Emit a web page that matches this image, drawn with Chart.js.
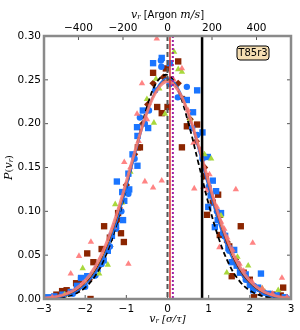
<!DOCTYPE html>
<html>
<head>
<meta charset="utf-8">
<script src="https://cdn.jsdelivr.net/npm/chart.js@4"></script>
<style>
  html, body { margin: 0; padding: 0; background: #fff; }
  #wrap { width: 300px; height: 330px; }
</style>
</head>
<body>
<div id="wrap"><canvas id="chart" width="300" height="330"></canvas></div>
<script>
// fitted curves, sampled every 0.25 sigma/tau
const curveX = [-3, -2.75, -2.5, -2.25, -2, -1.75, -1.5, -1.25, -1, -0.75, -0.5, -0.25, 0,
  0.25, 0.5, 0.75, 1, 1.25, 1.5, 1.75, 2, 2.25, 2.5, 2.75, 3];
const salmonCurve = [0.001, 0.0023, 0.0052, 0.0109, 0.021, 0.0375, 0.0619, 0.0946, 0.1338, 0.1752, 0.2126, 0.2386, 0.248,
  0.2386, 0.2126, 0.1752, 0.1338, 0.0946, 0.0619, 0.0375, 0.021, 0.0109, 0.0052, 0.0023, 0.001];
const orangeCurve = [0.0009, 0.002, 0.0047, 0.0098, 0.0192, 0.035, 0.059, 0.092, 0.132, 0.174, 0.212, 0.239, 0.249,
  0.24, 0.214, 0.176, 0.134, 0.094, 0.061, 0.036, 0.0196, 0.01, 0.0048, 0.002, 0.0009];
const blueCurve = [0.0005, 0.0013, 0.0033, 0.0076, 0.0158, 0.0303, 0.0531, 0.0855, 0.1261, 0.1708, 0.212, 0.2413, 0.252,
  0.2413, 0.212, 0.1708, 0.1261, 0.0855, 0.0531, 0.0303, 0.0158, 0.0076, 0.0033, 0.0013, 0.0005];
const brownCurve = [0.0007, 0.0018, 0.0042, 0.009, 0.018, 0.033, 0.057, 0.09, 0.13, 0.173, 0.212, 0.24, 0.25,
  0.24, 0.212, 0.173, 0.13, 0.09, 0.057, 0.033, 0.018, 0.009, 0.0042, 0.0018, 0.0007];
const dashedCurve = [0.0003, 0.0009, 0.0024, 0.0058, 0.0131, 0.0268, 0.0495, 0.0831, 0.1265, 0.1746, 0.2186, 0.2481, 0.2555,
  0.2386, 0.2021, 0.1553, 0.1082, 0.0684, 0.0392, 0.0204, 0.0096, 0.0041, 0.0016, 0.0006, 0.0002];

// measured points
const blueSqX = [-2.9, -2.75, -2.55, -2.35, -2.2, -2.1, -1.95, -1.8, -1.7, -1.55, -1.45, -1.35, -1.25, -1.08, -1.05, -1.23, -1.1, -0.93, -0.95, -0.73,
  -0.85, -0.73, -0.74, -0.47, -0.6, -0.35, -0.14, 0.06, 0.47, 0.72, 0.62, 0.85, 0.98, 0.99, 1.1, 1.18, 1.15, 1.3, 1.4, 1.56,
  1.62, 1.76, 1.9, 2.08, 2.27, 2.2, 2.45, 2.65, 2.85, 1.05, 1.22, 1.48, 1.68, 2.0];
const blueSqY = [0.002, 0.003, 0.005, 0.008, 0.015, 0.024, 0.026, 0.027, 0.034, 0.044, 0.055, 0.072, 0.083, 0.09, 0.112, 0.134, 0.122, 0.125, 0.143, 0.152,
  0.165, 0.186, 0.196, 0.195, 0.215, 0.269, 0.275, 0.269, 0.227, 0.238, 0.213, 0.19, 0.162, 0.105, 0.135, 0.123, 0.082, 0.098, 0.072, 0.042,
  0.056, 0.03, 0.028, 0.01, 0.029, 0.013, 0.006, 0.004, 0.002, 0.118, 0.09, 0.058, 0.038, 0.016];
const blueCiX = [-2.6, -2.3, -2.0, -1.75, -1.6, -1.4, -1.25, -1.12, -0.95, -0.8, -0.67, -0.55, -0.45, -0.3, -0.15, -0.16, 0.05, 0.25, 0.47, 0.72,
  0.6, 0.85, 1.0, 1.2, 1.35, 1.5, 1.7, 1.9, 2.1, 2.35, 2.6, 2.9];
const blueCiY = [0.002, 0.006, 0.014, 0.027, 0.04, 0.06, 0.08, 0.1, 0.12, 0.16, 0.207, 0.2, 0.215, 0.238, 0.265, 0.272, 0.245, 0.23, 0.242, 0.187,
  0.195, 0.16, 0.128, 0.1, 0.075, 0.055, 0.04, 0.022, 0.015, 0.007, 0.003, 0.001];
const salmonTriX = [-0.26, -0.62, 0.35, -0.74, -1.05, -0.55, -0.35, -0.14, 0.65, 0.87, 1.66, 0.63, -1.86, -2.15, -2.35, -0.95, 1.26, 2.07, 2.78,
  -2.8, -2.4, -2.05, -1.7, -1.45, -1.3, -1.15, -0.9, -0.7, -0.5, 0.15, 0.5, 0.8, 0.96, 1.1, 1.3, 1.45, 1.65, 1.85, 2.05, 2.3, 2.55, 2.9,
  1.02, 1.2, 1.38, 1.58, 1.75];
const salmonTriY = [0.297, 0.246, 0.263, 0.211, 0.156, 0.134, 0.127, 0.135, 0.126, 0.128, 0.125, 0.178, 0.065, 0.049, 0.029, 0.04, 0.059, 0.064, 0.024,
  0.002, 0.006, 0.018, 0.036, 0.06, 0.082, 0.105, 0.15, 0.18, 0.205, 0.25, 0.215, 0.17, 0.124, 0.115, 0.088, 0.07, 0.045, 0.032, 0.02, 0.012, 0.006, 0.002,
  0.142, 0.105, 0.08, 0.056, 0.04];
const greenTriX = [0.16, 0.26, 0.35, -0.33, 1.06, -1.27, -1.66, -2.06, -1.45, 1.96, 1.44, 2.69, -0.5, -0.2, 0.55, 0.9, 1.3, 1.7, -0.9, -1.1,
  -2.5, 2.3, -0.06, -0.28];
const greenTriY = [0.282, 0.262, 0.259, 0.201, 0.16, 0.108, 0.029, 0.035, 0.039, 0.038, 0.03, 0.01, 0.228, 0.24, 0.205, 0.165, 0.095, 0.048, 0.145, 0.11,
  0.005, 0.012, 0.211, 0.251];
const brownSqX = [-0.35, 0.26, -0.04, -0.25, 0.0, -0.14, 0.35, 0.72, -0.67, -0.72, 1.23, -1.06, -1.13, -1.54, -1.95, 0.96, 1.27, 1.78, 1.56, 2.81,
  -2.56, -1.87, 2.1, 1.27, -2.22, -2.7, -2.45, -2.1, -1.8, -1.6, -1.4, -1.2, 0.93, 1.1, 1.5, 1.85, 2.0, 2.3, 2.55, 2.75, 0.47];
const brownSqY = [0.258, 0.271, 0.263, 0.219, 0.219, 0.212, 0.173, 0.199, 0.173, 0.173, 0.119, 0.065, 0.075, 0.083, 0.052, 0.096, 0.096, 0.083, 0.026, 0.013,
  0.009, 0.0, 0.002, 0.073, 0.018, 0.005, 0.01, 0.022, 0.042, 0.057, 0.07, 0.098, 0.14, 0.11, 0.06, 0.03, 0.022, 0.008, 0.005, 0.004, 0.197];
const brownDiX = [-2.5, -2.2, -1.9, -1.65, -1.4, -1.2, -1.0, -0.8, -0.6, -0.48, -0.35, -0.1, 0.1, 0.26, 0.4, 0.55, 0.7, 0.9, 1.05, 1.25,
  1.45, 1.65, 1.9, 2.2, 2.5];
const brownDiY = [0.004, 0.01, 0.022, 0.038, 0.06, 0.09, 0.13, 0.165, 0.2, 0.222, 0.246, 0.253, 0.25, 0.246, 0.228, 0.205, 0.18, 0.15, 0.12, 0.095,
  0.065, 0.045, 0.025, 0.012, 0.005];

// vertical markers (sigma/tau)
const markerX = [0.0, 0.06, 0.13, 0.84];

const xTicks = [-3, -2, -1, 0, 1, 2, 3];
const yTicks = [0, 0.05, 0.1, 0.15, 0.2, 0.25, 0.3];
const topTicks = [-400, -200, 0, 200, 400];
const topRange = [-555, 555];
const boxLabel = 'T85r3';

const pts = (xs, ys) => xs.map((x, i) => ({ x, y: ys[i] }));
const minus = v => String(v).replace('-', '\u2212');

function pointSet(xs, ys, color, style, r) {
  return { type: 'scatter', data: pts(xs, ys), backgroundColor: color, borderColor: color, borderWidth: 0,
    pointStyle: style, pointRadius: r, order: 5 };
}
function curveSet(ys, color, width, dash) {
  return { type: 'scatter', data: pts(curveX, ys), showLine: true, borderColor: color, borderWidth: width,
    borderDash: dash || [], pointRadius: 0, tension: 0.4, fill: false, order: 1 };
}

const sans = 'DejaVu Sans, sans-serif';
const serifIt = 'italic 11px "DejaVu Serif", serif';

function rich(ctx, parts, cx, cy) {
  let w = 0;
  parts.forEach(p => { ctx.font = p.f; w += ctx.measureText(p.t).width; });
  let x = cx - w / 2;
  ctx.textBaseline = 'middle';
  ctx.textAlign = 'left';
  parts.forEach(p => {
    ctx.font = p.f;
    ctx.fillText(p.t, x, cy + (p.dy || 0));
    x += ctx.measureText(p.t).width;
  });
}

const decor = {
  id: 'decor',
  afterDatasetsDraw(chart) {
    const { ctx, chartArea: a, scales } = chart;
    const xs = scales.x, ys = scales.y, x2 = scales.x2;
    ctx.save();
    // vertical markers
    const styles = [
      { c: '#555555', w: 2, d: [5, 3] },
      { c: '#d9302f', w: 1.5, d: [] },
      { c: '#a0209f', w: 2, d: [2, 2] },
      { c: '#000000', w: 2.5, d: [] }
    ];
    markerX.forEach((v, i) => {
      const px = xs.getPixelForValue(v);
      ctx.beginPath();
      ctx.strokeStyle = styles[i].c;
      ctx.lineWidth = styles[i].w;
      ctx.setLineDash(styles[i].d);
      ctx.moveTo(px, a.top);
      ctx.lineTo(px, a.bottom);
      ctx.stroke();
    });
    ctx.setLineDash([]);
    // inward ticks
    ctx.strokeStyle = '#555';
    ctx.lineWidth = 1;
    ctx.beginPath();
    xTicks.forEach(v => {
      const px = xs.getPixelForValue(v);
      ctx.moveTo(px, a.bottom); ctx.lineTo(px, a.bottom - 4);
    });
    topTicks.forEach(v => {
      const px = x2.getPixelForValue(v);
      ctx.moveTo(px, a.top); ctx.lineTo(px, a.top + 4);
    });
    yTicks.forEach(v => {
      const py = ys.getPixelForValue(v);
      ctx.moveTo(a.left, py); ctx.lineTo(a.left + 4, py);
      ctx.moveTo(a.right, py); ctx.lineTo(a.right - 4, py);
    });
    ctx.stroke();
    // frame
    ctx.strokeStyle = '#8a8a8a';
    ctx.lineWidth = 2.5;
    ctx.strokeRect(a.left, a.top, a.right - a.left, a.bottom - a.top);
    // top tick labels
    ctx.fillStyle = '#000';
    ctx.font = '10.5px ' + sans;
    ctx.textAlign = 'center';
    ctx.textBaseline = 'middle';
    topTicks.forEach(v => ctx.fillText(minus(v), x2.getPixelForValue(v), 28));
    // label box
    const bx = 237, by = 46, bw = 32, bh = 14;
    ctx.beginPath();
    ctx.roundRect(bx, by, bw, bh, 3);
    ctx.fillStyle = '#f5deb3';
    ctx.fill();
    ctx.strokeStyle = '#000';
    ctx.lineWidth = 1;
    ctx.stroke();
    ctx.fillStyle = '#000';
    ctx.font = '10px ' + sans;
    ctx.fillText(boxLabel, bx + bw / 2, by + bh / 2 + 0.5);
    // axis titles
    const cx = (a.left + a.right) / 2;
    const reg = '10px ' + sans;
    const sub = 'italic 7px "DejaVu Serif", serif';
    rich(ctx, [{ t: 'v', f: serifIt }, { t: 'r', f: sub, dy: 2 }, { t: ' [\u03c3/\u03c4]', f: 'italic 10px "DejaVu Serif", serif' }], cx, 319);
    rich(ctx, [{ t: 'v', f: serifIt }, { t: 'r', f: sub, dy: 2 }, { t: ' [Argon ', f: reg }, { t: 'm/s', f: serifIt }, { t: ']', f: reg }], cx, 15);
    ctx.translate(9, (a.top + a.bottom) / 2);
    ctx.rotate(-Math.PI / 2);
    rich(ctx, [{ t: 'P', f: serifIt }, { t: '(', f: '10px "DejaVu Serif", serif' }, { t: 'v', f: serifIt }, { t: 'r', f: sub, dy: 2 }, { t: ')', f: '10px "DejaVu Serif", serif' }], 0, 0);
    ctx.restore();
  }
};

const tickFont = { family: sans, size: 10.5 };

new Chart(document.getElementById('chart'), {
  type: 'scatter',
  data: {
    datasets: [
      curveSet(salmonCurve, 'rgba(240,120,120,0.85)', 3),
      curveSet(orangeCurve, '#f0a030', 1),
      curveSet(brownCurve, '#8b2500', 1),
      curveSet(blueCurve, '#1f6fe8', 1.5),
      curveSet(dashedCurve, '#000000', 1.8, [5, 3]),
      pointSet(salmonTriX, salmonTriY, 'rgba(255,110,110,0.85)', 'triangle', 3.7),
      pointSet(greenTriX, greenTriY, '#a8d83c', 'triangle', 3.7),
      pointSet(blueCiX, blueCiY, '#1a75ff', 'circle', 3.2),
      pointSet(blueSqX, blueSqY, '#1a75ff', 'rect', 4.5),
      pointSet(brownSqX, brownSqY, '#8b2500', 'rect', 4.5),
      pointSet(brownDiX, brownDiY, '#8b2500', 'rectRot', 3.7)
    ]
  },
  options: {
    responsive: false,
    animation: false,
    layout: { padding: { left: 0, right: 9, top: 0, bottom: 0 } },
    plugins: { legend: { display: false }, tooltip: { enabled: false } },
    scales: {
      x: {
        type: 'linear', position: 'bottom', min: -3, max: 3,
        grid: { display: false, drawTicks: false }, border: { display: false },
        afterBuildTicks: s => { s.ticks = xTicks.map(v => ({ value: v })); },
        afterFit: s => { s.height = 31; },
        ticks: { color: '#000', font: tickFont, padding: 4, maxRotation: 0, callback: v => minus(v) }
      },
      x2: {
        type: 'linear', position: 'top', min: topRange[0], max: topRange[1],
        grid: { display: false, drawTicks: false }, border: { display: false },
        afterBuildTicks: s => { s.ticks = topTicks.map(v => ({ value: v })); },
        afterFit: s => { s.height = 36; },
        ticks: { display: false }
      },
      y: {
        type: 'linear', min: 0, max: 0.3,
        grid: { display: false, drawTicks: false }, border: { display: false },
        afterBuildTicks: s => { s.ticks = yTicks.map(v => ({ value: v })); },
        afterFit: s => { s.width = 44; },
        ticks: { color: '#000', font: tickFont, padding: 3, callback: v => v.toFixed(2) }
      }
    }
  },
  plugins: [decor]
});
</script>
</body>
</html>
